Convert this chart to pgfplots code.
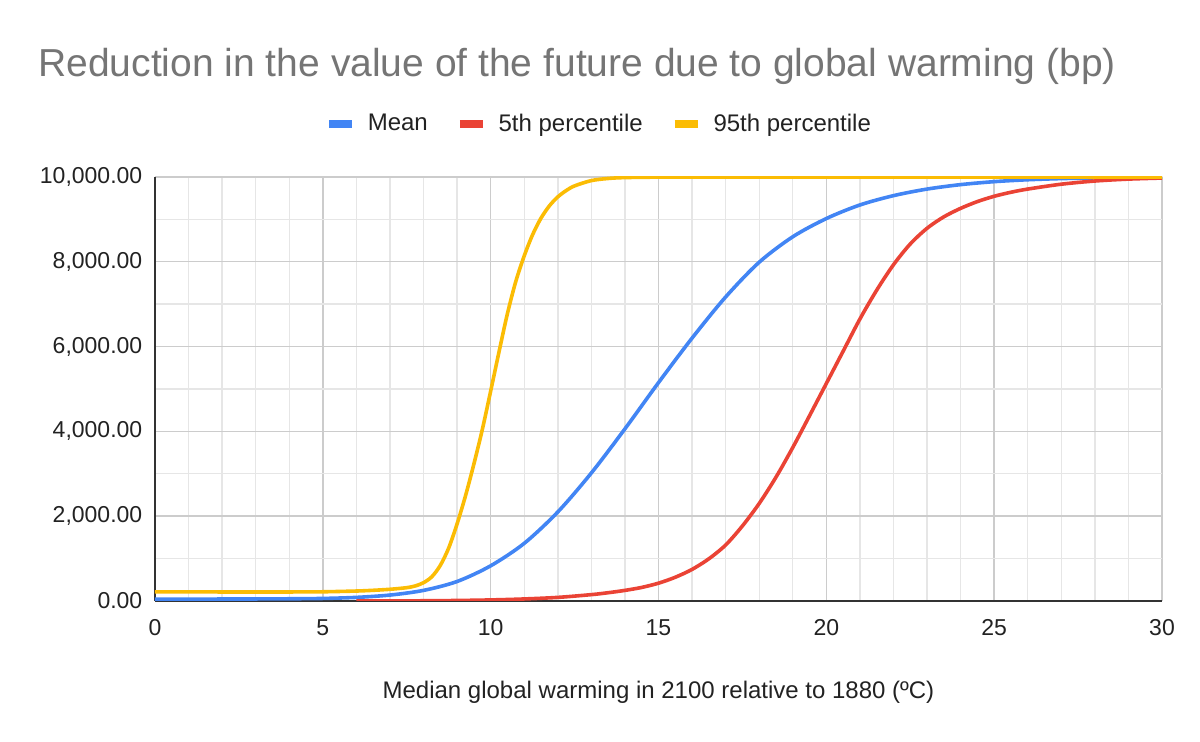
\documentclass[border=0pt]{standalone}
\usepackage{fontspec}
\setmainfont{Liberation Sans}
\usepackage{pgfplots}
\pgfplotsset{compat=1.18}
\definecolor{cMean}{HTML}{4285F4}
\definecolor{cLow}{HTML}{EA4335}
\definecolor{cHigh}{HTML}{FBBC04}
\definecolor{titlegray}{HTML}{757575}
\definecolor{majorgrid}{HTML}{CCCCCC}
\definecolor{minorgrid}{HTML}{E6E6E6}
\definecolor{axisdark}{HTML}{333333}
\definecolor{txt}{HTML}{222222}
\begin{document}
\begin{tikzpicture}
\useasboundingbox (-77.5pt,-70.5pt) rectangle (522.5pt,300.5pt);
\begin{axis}[
  at={(0,0)}, anchor=south west,
  scale only axis, width=503.5pt, height=212pt,
  xmin=0, xmax=30, ymin=0, ymax=10000,
  xtick={0,5,...,30}, minor xtick={1,...,29},
  ytick={0,2000,...,10000}, minor ytick={1000,3000,...,9000},
  grid=both,
  major grid style={majorgrid, line width=0.7pt},
  minor grid style={minorgrid, line width=0.7pt},
  axis x line=bottom, axis y line=left,
  axis line style={-, axisdark, line width=1pt},
  tick style={draw=none},
  tick label style={font=\fontsize{11.5}{13}\selectfont, text=txt},
  /pgf/number format/assume math mode=true,
  scaled y ticks=false,
  yticklabel style={/pgf/number format/fixed, /pgf/number format/fixed zerofill, /pgf/number format/precision=2, /pgf/number format/1000 sep={,}, xshift=-0.7pt},
  xticklabel style={yshift=-3.5pt},
  legend columns=3,
  legend cell align=left,
  legend style={at={(0.4419,1.125)}, anchor=center, draw=none, fill=none,
    font=\fontsize{12}{14}\selectfont, text=txt,
    /tikz/every even column/.append style={column sep=12pt}},
  legend image code/.code={\draw[#1, line width=4pt] (0pt,0pt) -- (11.5pt,0pt); \path (16.5pt,0pt);},
  every axis plot/.append style={line width=1.8pt, smooth, tension=0.5, no markers},
]
\addplot[cMean] coordinates {
(0,45) (1,45) (2,46) (3,48) (4,52) (5,60) (6,85) (7,140) (8,250) (9,460) (10,830)
(11,1360) (12,2100) (13,3020) (14,4060) (15,5150) (16,6200) (17,7170) (18,7990)
(19,8590) (20,9020) (21,9340) (22,9560) (23,9715) (24,9820) (25,9890) (26,9935)
(27,9962) (28,9978) (29,9988) (30,9994)
};
\addlegendentry{Mean}
\addplot[cLow] coordinates {
(6,0) (7,1) (8,5) (9,12) (10,25) (11,48) (12,85) (13,150) (13.5,195) (14,250)
(14.5,320) (15,420) (15.5,560) (16,745) (16.5,995) (17,1320) (17.5,1770) (18,2300)
(18.5,2920) (19,3620) (19.5,4370) (20,5130) (20.5,5890) (21,6650) (21.5,7330)
(22,7930) (22.5,8420) (23,8790) (23.5,9060) (24,9260) (24.5,9420) (25,9545)
(25.5,9640) (26,9715) (27,9830) (28,9905) (29,9950) (30,9975)
};
\addlegendentry{5th percentile}
\addplot[cHigh] coordinates {
(0,215) (1,215) (2,213) (3,212) (4,213) (5,217) (6,235) (6.5,252) (7,276) (7.5,314)
(7.75,354) (8,432) (8.25,574) (8.5,840) (8.75,1250) (9,1820) (9.25,2480) (9.5,3230)
(9.75,4040) (10,4950) (10.25,5880) (10.5,6780) (10.75,7540) (11,8140) (11.25,8640)
(11.5,9030) (11.75,9320) (12,9530) (12.25,9680) (12.5,9790) (13,9915) (13.5,9965)
(14,9986) (15,9997) (16,10000) (20,10000) (25,10000) (30,10000)
};
\addlegendentry{95th percentile}
\end{axis}
\node[anchor=base west, inner sep=0pt, font=\fontsize{19.5}{22}\selectfont, text=titlegray]
  at (-58.5pt,262pt) {Reduction in the value of the future due to global warming (bp)};
\node[font=\fontsize{12}{14}\selectfont, text=txt] at (251.75pt,-45.5pt)
  {Median global warming in 2100 relative to 1880 (ºC)};
\end{tikzpicture}
\end{document}
